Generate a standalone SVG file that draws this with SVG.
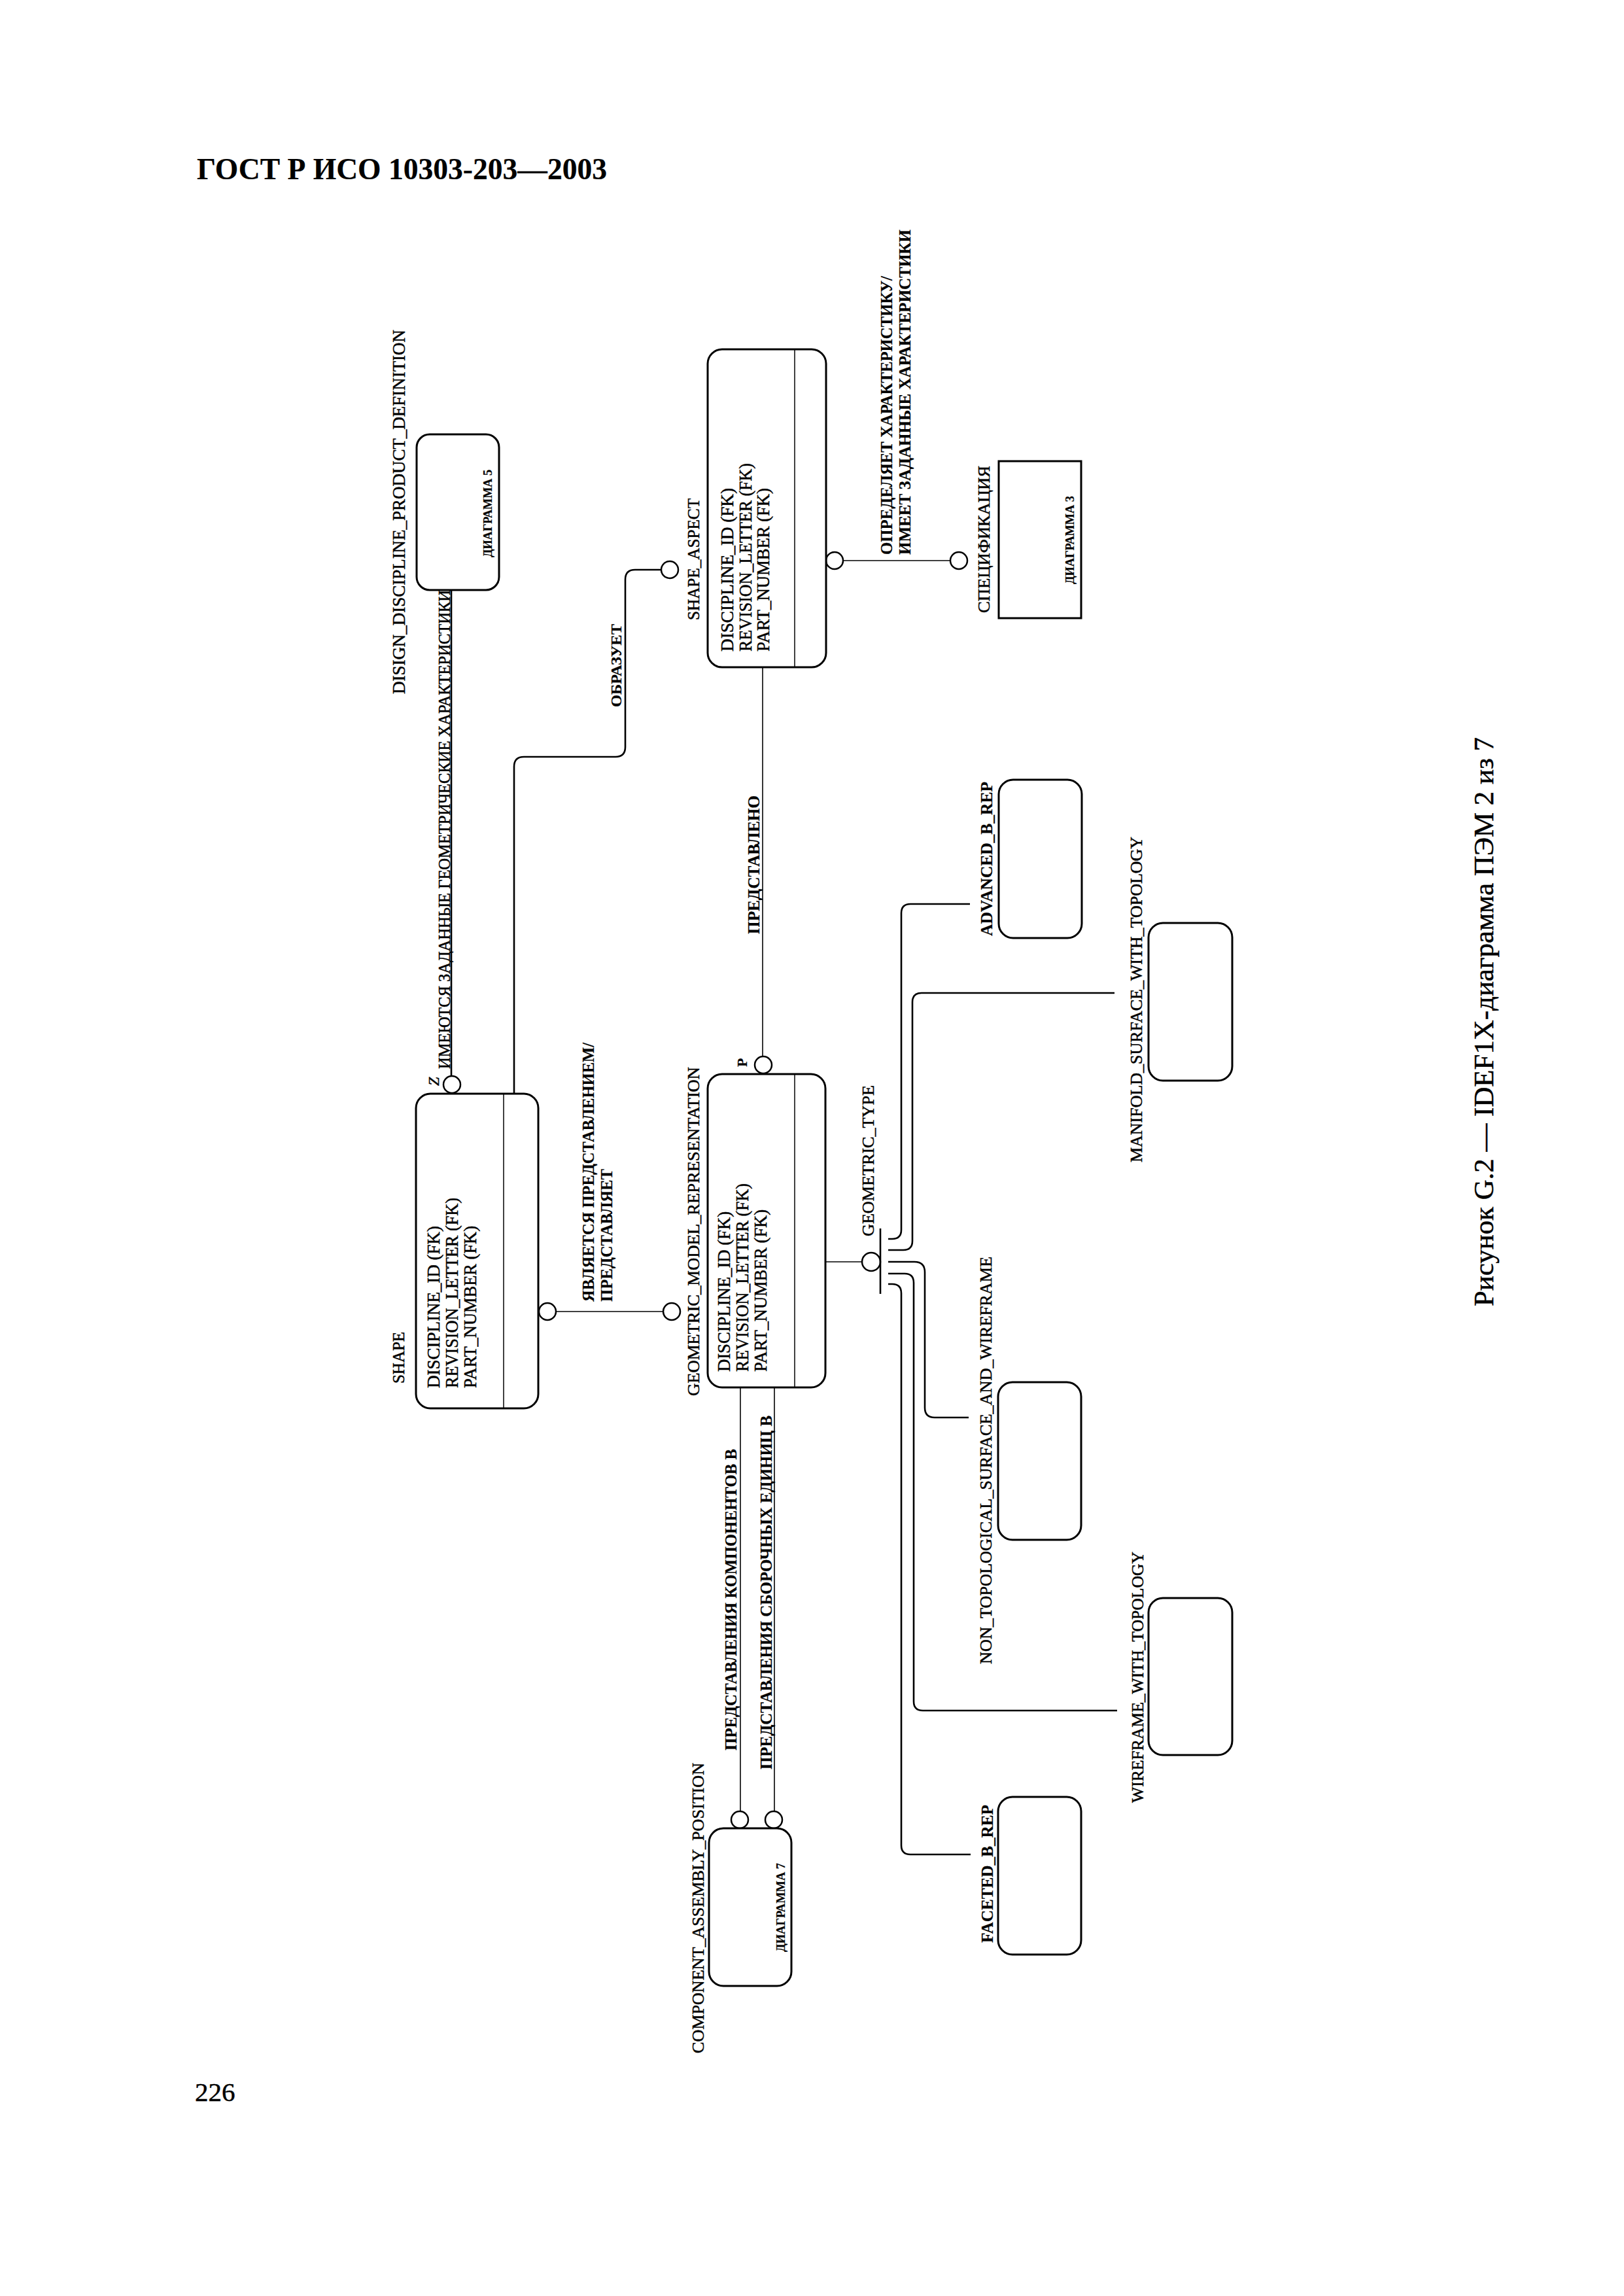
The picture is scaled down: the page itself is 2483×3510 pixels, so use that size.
<svg xmlns="http://www.w3.org/2000/svg" width="2483" height="3510" viewBox="0 0 2483 3510">
<style>
.t{font-family:"Liberation Serif","Times New Roman",serif;fill:#000;stroke:#000;stroke-width:0.5}
.b{font-weight:bold;stroke-width:0.2}
.box{fill:#fff;stroke:#000;stroke-width:3}
.div{stroke:#000;stroke-width:1.5}
.thin{fill:none;stroke:#000;stroke-width:1.6}
.med{fill:none;stroke:#000;stroke-width:2.6}
.circ{fill:#fff;stroke:#000;stroke-width:2.5}
</style>
<rect width="2483" height="3510" fill="#fff"/>
<text class="t b" x="301" y="274" font-size="46" textLength="627" lengthAdjust="spacingAndGlyphs">ГОСТ Р ИСО 10303-203—2003</text>
<text class="t" x="298" y="3212" font-size="41" stroke-width="0">226</text>
<text class="t" transform="translate(2283,1997) rotate(-90)" font-size="42" stroke-width="0" textLength="870" lengthAdjust="spacingAndGlyphs">Рисунок G.2 — IDEF1X-диаграмма ПЭМ 2 из 7</text>

<g id="connectors">
  <line class="med" x1="690" y1="902" x2="690" y2="1645"/>
  <circle class="circ" cx="691" cy="1658" r="13"/>
  <text class="t" transform="translate(688,1634) rotate(-90)" font-size="26" textLength="732" lengthAdjust="spacingAndGlyphs">ИМЕЮТСЯ ЗАДАННЫЕ ГЕОМЕТРИЧЕСКИЕ ХАРАКТЕРИСТИКИ</text>
  <text class="t" font-style="italic" transform="translate(671,1660) rotate(-90)" font-size="24">Z</text>
  <path class="med" d="M786 1672 V1172 Q786 1157 801 1157 H941 Q956 1157 956 1142 V886 Q956 871 971 871 H1011"/>
  <circle class="circ" cx="1024" cy="871" r="13"/>
  <text class="t b" transform="translate(950,1081) rotate(-90)" font-size="24" textLength="127" lengthAdjust="spacingAndGlyphs">ОБРАЗУЕТ</text>
  <line class="thin" x1="850" y1="2005" x2="1014" y2="2005"/>
  <circle class="circ" cx="837" cy="2005" r="13"/>
  <circle class="circ" cx="1027" cy="2005" r="13"/>
  <text class="t b" transform="translate(908,1990) rotate(-90)" font-size="25" textLength="396" lengthAdjust="spacingAndGlyphs">ЯВЛЯЕТСЯ ПРЕДСТАВЛЕНИЕМ/</text>
  <text class="t b" transform="translate(936,1990) rotate(-90)" font-size="25" textLength="203" lengthAdjust="spacingAndGlyphs">ПРЕДСТАВЛЯЕТ</text>
  <line class="thin" x1="1166" y1="1020" x2="1166" y2="1615"/>
  <circle class="circ" cx="1167" cy="1628" r="13"/>
  <text class="t b" transform="translate(1161,1428) rotate(-90)" font-size="25" textLength="212" lengthAdjust="spacingAndGlyphs">ПРЕДСТАВЛЕНО</text>
  <text class="t b" transform="translate(1142,1631) rotate(-90)" font-size="22">P</text>
  <line class="thin" x1="1289" y1="857" x2="1453" y2="857"/>
  <circle class="circ" cx="1276" cy="857" r="13"/>
  <circle class="circ" cx="1466" cy="857" r="13"/>
  <text class="t b" transform="translate(1364,848) rotate(-90)" font-size="25" textLength="426" lengthAdjust="spacingAndGlyphs">ОПРЕДЕЛЯЕТ ХАРАКТЕРИСТИКУ/</text>
  <text class="t b" transform="translate(1392,848) rotate(-90)" font-size="25" textLength="497" lengthAdjust="spacingAndGlyphs">ИМЕЕТ ЗАДАННЫЕ ХАРАКТЕРИСТИКИ</text>
  <line class="thin" x1="1132" y1="2121" x2="1132" y2="2769"/>
  <line class="thin" x1="1184" y1="2121" x2="1184" y2="2769"/>
  <circle class="circ" cx="1131" cy="2782" r="13"/>
  <circle class="circ" cx="1183" cy="2782" r="13"/>
  <text class="t b" transform="translate(1126,2676) rotate(-90)" font-size="25" textLength="461" lengthAdjust="spacingAndGlyphs">ПРЕДСТАВЛЕНИЯ КОМПОНЕНТОВ В</text>
  <text class="t b" transform="translate(1180,2705) rotate(-90)" font-size="25" textLength="541" lengthAdjust="spacingAndGlyphs">ПРЕДСТАВЛЕНИЯ СБОРОЧНЫХ ЕДИНИЦ В</text>
  <line class="thin" x1="1262" y1="1929" x2="1318" y2="1929"/>
  <circle class="circ" cx="1332" cy="1929" r="14"/>
  <line class="med" x1="1346" y1="1878" x2="1346" y2="1978"/>
  <text class="t" transform="translate(1336,1890) rotate(-90)" font-size="26" textLength="231" lengthAdjust="spacingAndGlyphs">GEOMETRIC_TYPE</text>
  <path class="med" d="M1358 1894 H1364 Q1378 1894 1378 1880 V1396 Q1378 1382 1392 1382 H1483"/>
  <path class="med" d="M1358 1911 H1381 Q1395 1911 1395 1897 V1532 Q1395 1518 1409 1518 H1704"/>
  <path class="med" d="M1358 1929 H1398 Q1414 1929 1414 1945 V2152 Q1414 2167 1429 2167 H1481"/>
  <path class="med" d="M1358 1947 H1383 Q1397 1947 1397 1961 V2601 Q1397 2615 1411 2615 H1708"/>
  <path class="med" d="M1358 1963 H1364 Q1378 1963 1378 1977 V2821 Q1378 2835 1392 2835 H1484"/>
</g>

<g id="diagram5">
  <rect class="box" x="637" y="664" width="126" height="238" rx="20"/>
  <text class="t" transform="translate(619,1061) rotate(-90)" font-size="27" textLength="557" lengthAdjust="spacingAndGlyphs">DISIGN_DISCIPLINE_PRODUCT_DEFINITION</text>
  <text class="t b" transform="translate(752,852) rotate(-90)" font-size="18" textLength="134" lengthAdjust="spacingAndGlyphs">ДИАГРАММА 5</text>
</g>

<g id="shape_aspect">
  <rect class="box" x="1082" y="534" width="181" height="486" rx="22"/>
  <line class="div" x1="1215" y1="535" x2="1215" y2="1019"/>
  <text class="t" transform="translate(1069,948) rotate(-90)" font-size="26" textLength="186" lengthAdjust="spacingAndGlyphs">SHAPE_ASPECT</text>
  <text class="t" transform="translate(1121,996) rotate(-90)" font-size="27" textLength="250" lengthAdjust="spacingAndGlyphs">DISCIPLINE_ID (FK)</text>
  <text class="t" transform="translate(1149,996) rotate(-90)" font-size="27" textLength="288" lengthAdjust="spacingAndGlyphs">REVISION_LETTER (FK)</text>
  <text class="t" transform="translate(1176,996) rotate(-90)" font-size="27" textLength="250" lengthAdjust="spacingAndGlyphs">PART_NUMBER (FK)</text>
</g>

<g id="specification">
  <rect class="box" x="1527" y="705" width="126" height="240"/>
  <text class="t" transform="translate(1513,937) rotate(-90)" font-size="25" textLength="225" lengthAdjust="spacingAndGlyphs">СПЕЦИФИКАЦИЯ</text>
  <text class="t b" transform="translate(1642,893) rotate(-90)" font-size="18" textLength="135" lengthAdjust="spacingAndGlyphs">ДИАГРАММА 3</text>
</g>

<g id="shape">
  <rect class="box" x="636" y="1672" width="187" height="481" rx="22"/>
  <line class="div" x1="770" y1="1673" x2="770" y2="2152"/>
  <text class="t" transform="translate(618,2115) rotate(-90)" font-size="25" stroke-width="0.8" textLength="79" lengthAdjust="spacingAndGlyphs">SHAPE</text>
  <text class="t" transform="translate(672,2122) rotate(-90)" font-size="27" stroke-width="0.8" textLength="248" lengthAdjust="spacingAndGlyphs">DISCIPLINE_ID (FK)</text>
  <text class="t" transform="translate(700,2122) rotate(-90)" font-size="27" stroke-width="0.8" textLength="291" lengthAdjust="spacingAndGlyphs">REVISION_LETTER (FK)</text>
  <text class="t" transform="translate(728,2122) rotate(-90)" font-size="27" stroke-width="0.8" textLength="248" lengthAdjust="spacingAndGlyphs">PART_NUMBER (FK)</text>
</g>

<g id="geometric_model_representation">
  <rect class="box" x="1082" y="1642" width="180" height="479" rx="22"/>
  <line class="div" x1="1215" y1="1643" x2="1215" y2="2120"/>
  <text class="t" transform="translate(1069,2134) rotate(-90)" font-size="26" stroke-width="0.8" textLength="503" lengthAdjust="spacingAndGlyphs">GEOMETRIC_MODEL_REPRESENTATION</text>
  <text class="t" transform="translate(1116,2097) rotate(-90)" font-size="27" stroke-width="0.8" textLength="245" lengthAdjust="spacingAndGlyphs">DISCIPLINE_ID (FK)</text>
  <text class="t" transform="translate(1144,2097) rotate(-90)" font-size="27" stroke-width="0.8" textLength="288" lengthAdjust="spacingAndGlyphs">REVISION_LETTER (FK)</text>
  <text class="t" transform="translate(1172,2097) rotate(-90)" font-size="27" stroke-width="0.8" textLength="248" lengthAdjust="spacingAndGlyphs">PART_NUMBER (FK)</text>
</g>

<g id="advanced_b_rep">
  <rect class="box" x="1527" y="1192" width="127" height="242" rx="22"/>
  <text class="t b" transform="translate(1517,1431) rotate(-90)" font-size="25" textLength="236" lengthAdjust="spacingAndGlyphs">ADVANCED_B_REP</text>
</g>

<g id="manifold_surface_with_topology">
  <rect class="box" x="1756" y="1411" width="128" height="241" rx="22"/>
  <text class="t" transform="translate(1746,1777) rotate(-90)" font-size="26" textLength="498" lengthAdjust="spacingAndGlyphs">MANIFOLD_SURFACE_WITH_TOPOLOGY</text>
</g>

<g id="non_topological_surface_and_wireframe">
  <rect class="box" x="1526" y="2113" width="127" height="241" rx="22"/>
  <text class="t" transform="translate(1516,2544) rotate(-90)" font-size="26" textLength="623" lengthAdjust="spacingAndGlyphs">NON_TOPOLOGICAL_SURFACE_AND_WIREFRAME</text>
</g>

<g id="wireframe_with_topology">
  <rect class="box" x="1756" y="2443" width="128" height="240" rx="22"/>
  <text class="t" transform="translate(1748,2756) rotate(-90)" font-size="26" textLength="384" lengthAdjust="spacingAndGlyphs">WIREFRAME_WITH_TOPOLOGY</text>
</g>

<g id="faceted_b_rep">
  <rect class="box" x="1526" y="2747" width="127" height="241" rx="22"/>
  <text class="t b" transform="translate(1518,2970) rotate(-90)" font-size="25" textLength="211" lengthAdjust="spacingAndGlyphs">FACETED_B_REP</text>
</g>

<g id="component_assembly_position">
  <rect class="box" x="1084" y="2795" width="126" height="241" rx="22"/>
  <text class="t" transform="translate(1076,3139) rotate(-90)" font-size="26" textLength="444" lengthAdjust="spacingAndGlyphs">COMPONENT_ASSEMBLY_POSITION</text>
  <text class="t b" transform="translate(1200,2984) rotate(-90)" font-size="18" textLength="136" lengthAdjust="spacingAndGlyphs">ДИАГРАММА 7</text>
</g>
</svg>
